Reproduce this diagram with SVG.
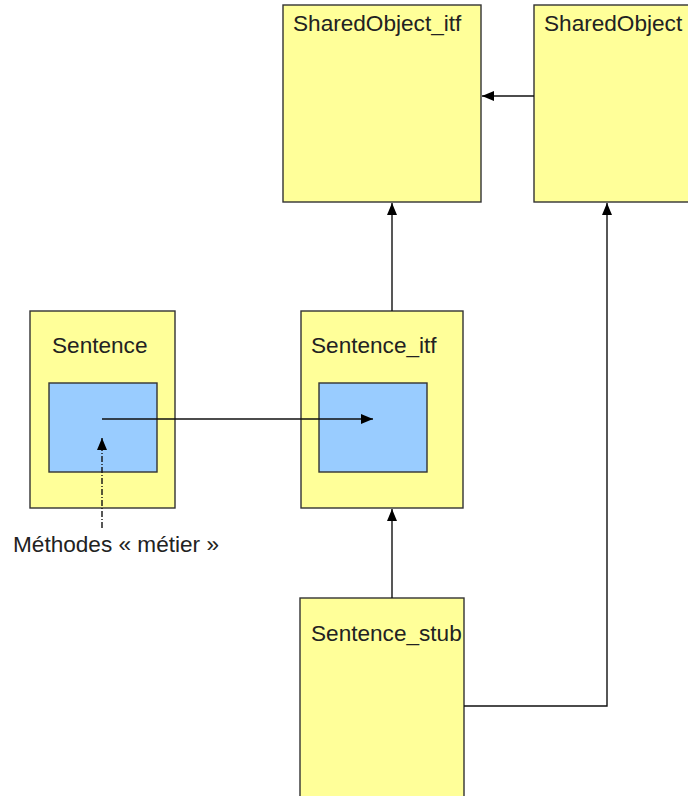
<svg xmlns="http://www.w3.org/2000/svg" width="688" height="796" viewBox="0 0 688 796">
  <style>
    .box { fill: #ffff99; stroke: #333333; stroke-width: 1.4; }
    .inner { fill: #99ccff; stroke: #333333; stroke-width: 1.4; }
    .lbl { font-family: "Liberation Sans", Arial, sans-serif; font-size: 22.6px; fill: #222222; }
    .edge { fill: none; stroke: #111111; stroke-width: 1.4; }
    .dashdot { fill: none; stroke: #111111; stroke-width: 1.4; stroke-dasharray: 6 2 1 2; }
  </style>
  <defs>
    <marker id="arrow" viewBox="0 0 12 10" refX="12" refY="5" markerWidth="12" markerHeight="10" markerUnits="userSpaceOnUse" orient="auto">
      <path d="M0,0 L12,5 L0,10 Z" fill="#000000"/>
    </marker>
  </defs>

  <g id="SharedObject_itf">
    <rect class="box" x="283" y="5" width="198" height="197"/>
    <text class="lbl" x="293" y="31">SharedObject_itf</text>
  </g>

  <g id="SharedObject">
    <rect class="box" x="534" y="5" width="170" height="197"/>
    <text class="lbl" x="544" y="31">SharedObject</text>
  </g>

  <g id="Sentence">
    <rect class="box" x="30" y="311" width="145" height="197"/>
    <text class="lbl" x="52" y="353">Sentence</text>
    <rect class="inner" x="49" y="383" width="108" height="89"/>
  </g>

  <g id="Sentence_itf">
    <rect class="box" x="301" y="311" width="162" height="197"/>
    <text class="lbl" x="311" y="353">Sentence_itf</text>
    <rect class="inner" x="319" y="383" width="108" height="89"/>
  </g>

  <g id="Sentence_stub">
    <rect class="box" x="300" y="598" width="164" height="210"/>
    <text class="lbl" x="311" y="641">Sentence_stub</text>
  </g>

  <g id="note">
    <text class="lbl" x="13" y="552">Méthodes « métier »</text>
  </g>

  <g id="connectors">
    <line class="edge" x1="534" y1="96" x2="482" y2="96" marker-end="url(#arrow)"/>
    <line class="edge" x1="392" y1="311" x2="392" y2="203" marker-end="url(#arrow)"/>
    <polyline class="edge" points="464,706 607,706 607,203" marker-end="url(#arrow)"/>
    <line class="edge" x1="392" y1="598" x2="392" y2="509" marker-end="url(#arrow)"/>
    <line class="edge" x1="102" y1="419" x2="373" y2="419" marker-end="url(#arrow)"/>
    <line class="dashdot" x1="102" y1="528" x2="102" y2="438" marker-end="url(#arrow)"/>
  </g>
</svg>
